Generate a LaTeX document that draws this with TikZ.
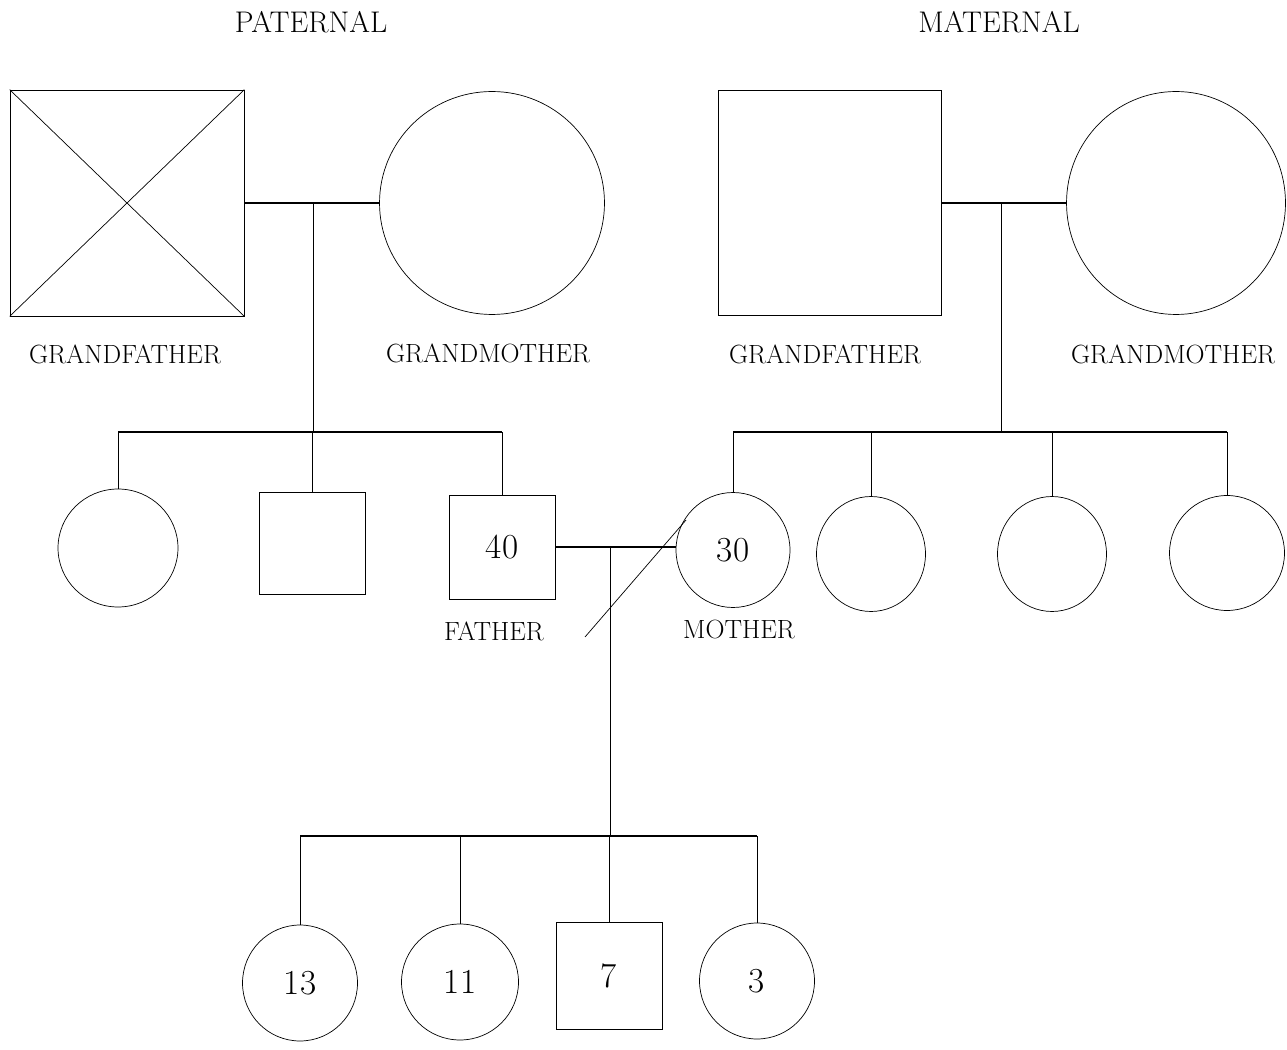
\documentclass[tikz,border=0pt]{standalone}
\usetikzlibrary{shapes.geometric}
\begin{document}
\begin{tikzpicture}[x=0.02cm,y=-0.02cm,
    every node/.style={font=\fontsize{15}{17}\selectfont},
    heading/.style={font=\fontsize{17}{19}\selectfont},
    male/.style={draw,rectangle,inner sep=0pt},
    female/.style={draw,ellipse,inner sep=0pt},
    age/.style={font=\fontsize{20}{24}\selectfont},
    link/.style={semithick},
    drop/.style={thin}]
    \useasboundingbox (0,0) rectangle (1287,1050);
    % headings
    \node[heading] (pat) at (311,22) {PATERNAL};
    \node[heading] (mat) at (999,22) {MATERNAL};
    % grandparents
    \node[male,minimum width=4.68cm,minimum height=4.52cm] (pgf) at (127,203) {};
    \draw (pgf.north west) -- (pgf.south east) (pgf.north east) -- (pgf.south west);
    \node[female,minimum width=4.5cm,minimum height=4.46cm] (pgm) at (492,203) {};
    \node[male,minimum width=4.46cm,minimum height=4.5cm] (mgf) at (830,203) {};
    \node[female,minimum width=4.38cm,minimum height=4.46cm] (mgm) at (1176,203) {};
    \node (pgfl) at (125,354) {GRANDFATHER};
    \node (pgml) at (488,353) {GRANDMOTHER};
    \node (mgfl) at (825,354) {GRANDFATHER};
    \node (mgml) at (1173,354) {GRANDMOTHER};
    \draw[link] (pgf.east) -- (pgm.west);
    \draw[link] (mgf.east) -- (mgm.west);
    \coordinate (pm) at (313,203);
    \coordinate (mm) at (1001,203);
    \coordinate (psib) at (313,432);
    \coordinate (msib) at (1001,432);
    \draw[drop] (pm) -- (psib);
    \draw[drop] (mm) -- (msib);
    % parents and their siblings
    \node[female,minimum width=2.4cm,minimum height=2.36cm] (aunt) at (118,548) {};
    \node[male,minimum width=2.12cm,minimum height=2.04cm] (uncle) at (312,543) {};
    \node[male,minimum width=2.12cm,minimum height=2.08cm,age] (father) at (502,547) {40};
    \node[female,minimum width=2.28cm,minimum height=2.3cm,age] (mother) at (733,550) {30};
    \node[female,minimum width=2.18cm,minimum height=2.3cm] (mauntA) at (871,554) {};
    \node[female,minimum width=2.18cm,minimum height=2.3cm] (mauntB) at (1052,554) {};
    \node[female,minimum width=2.3cm,minimum height=2.3cm] (mauntC) at (1227,553) {};
    \node (fatherl) at (494,631) {FATHER};
    \node (motherl) at (739,629) {MOTHER};
    \draw[link] (aunt.north |- psib) -- (father.north |- psib);
    \draw[link] (mother.north |- msib) -- (mauntC.north |- msib);
    \foreach \kid in {aunt,uncle,father}
        \draw[drop] (\kid.north |- psib) -- (\kid.north);
    \foreach \kid in {mother,mauntA,mauntB,mauntC}
        \draw[drop] (\kid.north |- msib) -- (\kid.north);
    \draw[link] (father.east) -- (father.east -| mother.west);
    \coordinate (sepA) at (585,637);
    \coordinate (sepB) at (686,520);
    \draw (sepA) -- (sepB);
    \coordinate (fm) at (610,547);
    \coordinate (ksib) at (610,836);
    \draw[drop] (fm) -- (ksib);
    % children
    \node[female,minimum width=2.3cm,minimum height=2.32cm,age] (kidA) at (300,983) {13};
    \node[female,minimum width=2.34cm,minimum height=2.32cm,age] (kidB) at (460,982) {11};
    \node[male,minimum width=2.12cm,minimum height=2.14cm,age] (kidC) at (609,976) {7};
    \node[female,minimum width=2.3cm,minimum height=2.32cm,age] (kidD) at (757,981) {3};
    \draw[link] (kidA.north |- ksib) -- (kidD.north |- ksib);
    \foreach \kid in {kidA,kidB,kidC,kidD}
        \draw[drop] (\kid.north |- ksib) -- (\kid.north);
\end{tikzpicture}
\end{document}
